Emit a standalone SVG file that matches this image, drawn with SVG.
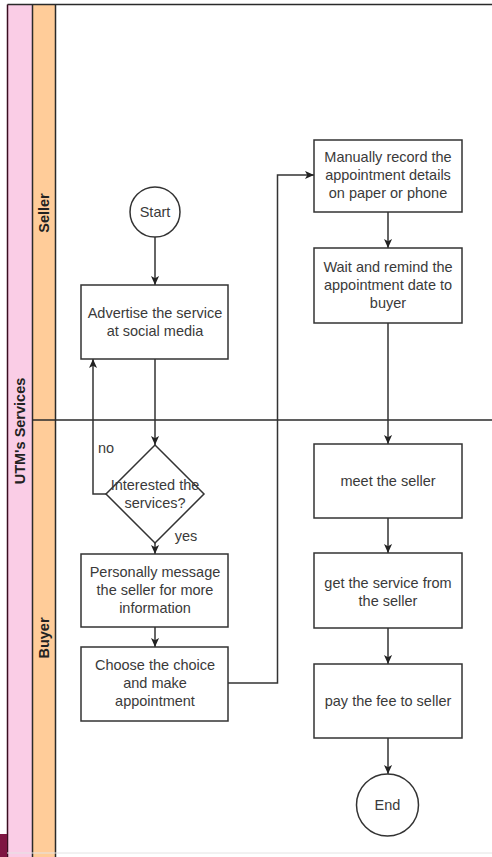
<svg xmlns="http://www.w3.org/2000/svg" width="492" height="857" viewBox="0 0 492 857">
<style>
.lane{stroke:#2a2a2a;stroke-width:1.5}
.box{fill:#fff;stroke:#333;stroke-width:1.5}
.t{font-family:"Liberation Sans",Arial,sans-serif;font-size:14.5px;fill:#3a3a3a;text-anchor:middle}
.lbl{font-family:"Liberation Sans",Arial,sans-serif;font-size:14.5px;font-weight:bold;fill:#222;text-anchor:middle}
.c{fill:none;stroke:#333;stroke-width:1.5}
</style>
<defs>
<marker id="arr" viewBox="0 0 10 10" refX="10" refY="5" markerWidth="9" markerHeight="9" markerUnits="userSpaceOnUse" orient="auto">
<path d="M0,0.5 L10,5 L0,9.5 L2.5,5 Z" fill="#222"/>
</marker>
</defs>
<rect x="0" y="0" width="492" height="857" fill="#fff"/>
<g id="pool">
<rect x="7.5" y="4.5" width="25" height="853" fill="#FACDE6"/>
<rect x="32.5" y="4.5" width="23" height="853" fill="#FFCC99"/>
<line class="lane" x1="7.5" y1="4.5" x2="492" y2="4.5"/>
<line x1="7.5" y1="4.5" x2="7.5" y2="857" stroke="#3a0e20" stroke-width="1.5"/>
<line class="lane" x1="32.5" y1="4.5" x2="32.5" y2="857"/>
<line class="lane" x1="55.5" y1="4.5" x2="55.5" y2="857"/>
<line class="lane" x1="32.5" y1="420" x2="492" y2="420"/>
<line x1="0" y1="853" x2="492" y2="853" stroke="#e4e4e4" stroke-width="1"/>
<rect x="0" y="834" width="7" height="23" fill="#7E1542"/>
<text class="lbl" transform="translate(25,431) rotate(-90)">UTM's Services</text>
<text class="lbl" transform="translate(49,213) rotate(-90)">Seller</text>
<text class="lbl" transform="translate(49,638) rotate(-90)">Buyer</text>
</g>
<g id="connectors">
<path class="c" d="M155,237 V285" marker-end="url(#arr)"/>
<path class="c" d="M155,359 V445" marker-end="url(#arr)"/>
<path class="c" d="M106,494 H93 V359" marker-end="url(#arr)"/>
<path class="c" d="M155,543 V554" marker-end="url(#arr)"/>
<path class="c" d="M155,627 V647" marker-end="url(#arr)"/>
<path class="c" d="M228,683 H277.5 V175 H314" marker-end="url(#arr)"/>
<path class="c" d="M388,212 V248" marker-end="url(#arr)"/>
<path class="c" d="M388,323 V444" marker-end="url(#arr)"/>
<path class="c" d="M388,518 V553" marker-end="url(#arr)"/>
<path class="c" d="M388,628 V664" marker-end="url(#arr)"/>
<path class="c" d="M388,738 V774" marker-end="url(#arr)"/>
<text class="t" x="106" y="453">no</text>
<text class="t" x="186" y="541">yes</text>
</g>
<g id="start">
<circle class="box" cx="155" cy="212" r="25"/>
<text class="t" x="155" y="217">Start</text>
</g>
<g id="advertise">
<rect class="box" x="81" y="285" width="147" height="74"/>
<text class="t" x="155" y="318">Advertise the service</text>
<text class="t" x="155" y="336">at social media</text>
</g>
<g id="decision">
<polygon class="box" points="155,445 204,494 155,543 106,494"/>
<text class="t" x="155" y="490">Interested the</text>
<text class="t" x="155" y="508">services?</text>
</g>
<g id="message">
<rect class="box" x="81" y="554" width="147" height="73"/>
<text class="t" x="155" y="577">Personally message</text>
<text class="t" x="155" y="595">the seller for more</text>
<text class="t" x="155" y="613">information</text>
</g>
<g id="choose">
<rect class="box" x="81" y="647" width="147" height="74"/>
<text class="t" x="155" y="670">Choose the choice</text>
<text class="t" x="155" y="688">and make</text>
<text class="t" x="155" y="706">appointment</text>
</g>
<g id="record">
<rect class="box" x="314" y="140" width="148" height="72"/>
<text class="t" x="388" y="162">Manually record the</text>
<text class="t" x="388" y="180">appointment details</text>
<text class="t" x="388" y="198">on paper or phone</text>
</g>
<g id="remind">
<rect class="box" x="314" y="248" width="148" height="75"/>
<text class="t" x="388" y="272">Wait and remind the</text>
<text class="t" x="388" y="290">appointment date to</text>
<text class="t" x="388" y="308">buyer</text>
</g>
<g id="meet">
<rect class="box" x="314" y="444" width="148" height="74"/>
<text class="t" x="388" y="486">meet the seller</text>
</g>
<g id="get">
<rect class="box" x="314" y="553" width="148" height="75"/>
<text class="t" x="388" y="588">get the service from</text>
<text class="t" x="388" y="606">the seller</text>
</g>
<g id="pay">
<rect class="box" x="314" y="664" width="148" height="74"/>
<text class="t" x="388" y="706">pay the fee to seller</text>
</g>
<g id="end">
<circle class="box" cx="387.5" cy="805" r="31"/>
<text class="t" x="387.5" y="810">End</text>
</g>
</svg>
